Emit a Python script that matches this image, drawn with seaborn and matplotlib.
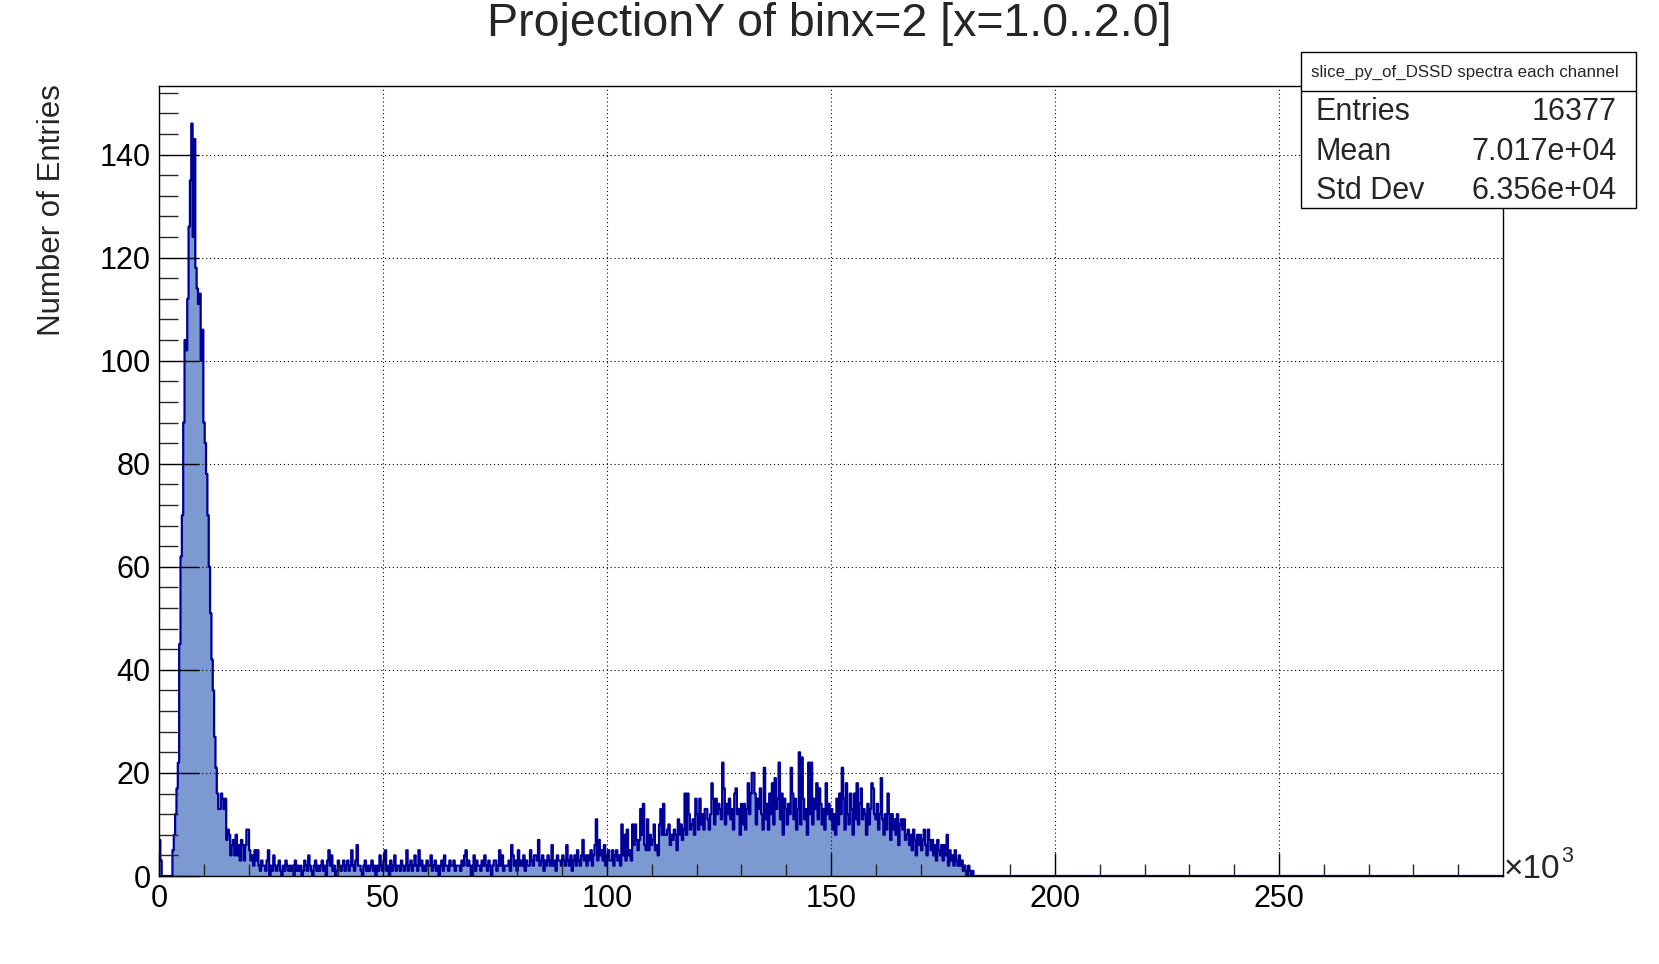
import numpy as np
import pandas as pd
import matplotlib
matplotlib.use("Agg")
import matplotlib.pyplot as plt
from matplotlib.ticker import FixedLocator, FuncFormatter
from matplotlib.patches import Rectangle
from matplotlib.lines import Line2D
import seaborn as sns

# ---------------- data (counts per 300-unit bin, 0 .. 300000) ----------------
BIN_WIDTH = 300
N_BINS = 1000

start_counts = [7, 3, 0, 0, 0, 0, 0, 0, 0, 0]
peak_counts = [5, 8, 12, 17, 22, 45, 62, 70, 88, 104, 102, 112, 126, 135, 146,
               124, 143, 118, 114, 111, 113, 100, 106, 88, 84, 78, 70, 60, 51,
               42, 36, 27, 21, 16]
tail_counts = [13, 13, 16, 15, 13, 15, 7, 9, 8, 4, 6, 7, 4, 8, 4, 6, 3, 7, 6, 3,
               6, 9, 9, 5, 3, 4, 2, 5, 3, 5, 2, 1, 3, 2]
plateau_counts = [
    2, 1, 3, 5, 0, 2, 1, 4, 2, 1, 2, 3, 1, 0, 2, 1, 3, 2, 1, 2,
    1, 2, 0, 3, 1, 2, 1, 2, 0, 1, 3, 2, 1, 4, 2, 1, 0, 2, 3, 1,
    2, 1, 2, 3, 1, 2, 0, 3, 5, 2, 4, 1, 2, 0, 1, 3, 2, 1, 2, 3,
    1, 2, 3, 1, 2, 5, 2, 1, 3, 6, 2, 2, 1, 0, 2, 3, 1, 2, 1, 2,
    3, 1, 2, 0, 2, 1, 4, 2, 1, 3, 5, 1, 2, 0, 3, 1, 2, 4, 1, 2,
    2, 1, 3, 2, 1, 2, 5, 1, 2, 3, 1, 2, 4, 2, 1, 5, 2, 3, 1, 2,
    1, 3, 2, 2, 4, 1, 2, 3, 1, 2, 0, 2, 3, 1, 4, 2, 2, 1, 3, 2,
    2, 3, 1, 2, 2, 2, 1, 3, 2, 4, 5, 2, 3, 2, 0, 2, 4, 1, 3, 2,
    2, 1, 3, 2, 4, 2, 1, 3, 2, 0, 2, 3, 3, 1, 2, 5, 2, 4, 1, 2,
    2, 2, 3, 1, 6, 4, 2, 3, 1, 5, 2, 3, 2, 4, 1, 3, 2, 2, 5, 3,
    2, 4, 4, 3, 7, 2, 3, 4, 1, 3, 2, 4, 3, 2, 6, 2, 3, 1, 4, 3]
rise_counts = [3, 2, 4, 3, 2, 6, 3, 2, 4, 1, 3, 4, 2, 5, 3, 2, 4, 7, 3, 4,
               2, 4, 3, 5, 2, 4, 6, 11, 3, 7, 4, 5, 3, 6, 2, 4, 5, 3]
bump_left_counts = [3, 5, 2, 4, 5, 3, 4, 2, 10, 4, 8, 3, 9, 4, 5, 3, 10, 6, 10,
                    7, 5, 7, 13, 8, 14, 6, 5, 11, 5, 8, 6, 7, 10, 5, 6, 4, 10,
                    13, 8, 14, 8, 8, 9, 10, 6, 8, 7, 9, 8, 5, 11, 8, 10, 7, 9,
                    16, 8, 16, 12, 9, 10, 11, 8, 15, 12, 9, 15, 10, 12, 9, 13,
                    13, 11, 9, 12, 18, 15, 10, 15, 12, 14, 13, 11, 22]
bump_top_counts = [17, 10, 14, 12, 15, 11, 13, 9, 16, 17, 12, 13, 8, 14, 10,
                   14, 9, 13, 18, 12, 16, 20, 20, 16, 10, 15, 13, 17, 12, 9,
                   21, 11, 14, 9, 16, 12, 18, 10, 19, 13, 15, 22, 11, 16, 8,
                   15, 13, 10, 14, 12, 21, 16, 11, 15, 9, 13, 24, 10, 23, 15,
                   11, 13, 8, 22, 12, 22, 10, 15, 13, 18, 11, 17, 14, 10, 13,
                   9, 18, 12, 14, 11, 13, 9, 12, 8, 15, 10, 16, 12, 21]
bump_right_counts = [15, 9, 18, 12, 10, 16, 13, 8, 16, 11, 18, 10, 14, 17, 11,
                     13, 12, 8, 14, 10, 13, 18, 17, 12, 11, 14, 9, 12, 19, 11,
                     8, 12, 9, 16, 12, 7, 12, 9, 11, 8, 12, 6, 10, 11, 9, 11,
                     7, 8]
fall_counts = [9, 6, 8, 5, 9, 7, 4, 8, 6, 8, 5, 7, 9, 6, 4, 9, 7, 5, 7, 4, 6,
               3, 7, 5, 4, 6, 3, 6, 4, 8, 2, 5, 3, 4, 2, 5, 3, 2, 4, 2, 3, 1,
               2, 1, 0, 2, 1, 0, 1]

counts = (start_counts + peak_counts + tail_counts + plateau_counts + rise_counts
          + bump_left_counts + bump_top_counts + bump_right_counts + fall_counts)
counts = counts + [0] * (N_BINS - len(counts))
edges = [i * BIN_WIDTH for i in range(N_BINS + 1)]
centers = [e + BIN_WIDTH / 2 for e in edges[:-1]]
df = pd.DataFrame({"x": centers, "w": counts})

title = "ProjectionY of binx=2 [x=1.0..2.0]"
ylabel = "Number of Entries"
xtick_major = [0, 50000, 100000, 150000, 200000, 250000]
xtick_minor = [v * 10000 for v in range(1, 30)]
ytick_major = [0, 20, 40, 60, 80, 100, 120, 140]
ytick_minor = [v * 4 for v in range(0, 39)]
stats_header = "slice_py_of_DSSD spectra each channel"
stats_rows = [("Entries", "16377"), ("Mean", "7.017e+04"), ("Std Dev", "6.356e+04")]

# ---------------- style ----------------
sns.set_style("white")
plt.rcParams["font.family"] = ["Liberation Sans", "DejaVu Sans"]

FILL = "#7c99d1"
LINE = "#000099"

W, H = 1659, 964
fig = plt.figure(figsize=(W / 100, H / 100), dpi=100)
L, R, T, B = 159, 1503, 86, 876
ax = fig.add_axes([L / W, 1 - B / H, (R - L) / W, (B - T) / H])

sns.histplot(data=df, x="x", weights="w", bins=edges, element="step",
             fill=True, color=FILL, alpha=1.0, linewidth=0, ax=ax)
sns.histplot(data=df, x="x", weights="w", bins=edges, element="step",
             fill=False, color=LINE, linewidth=1.6, ax=ax)

ax.set_xlim(0, 300000)
ax.set_ylim(0, 153.3)
ax.set_xlabel("")
ax.set_ylabel("")

ax.xaxis.set_major_locator(FixedLocator(xtick_major))
ax.xaxis.set_minor_locator(FixedLocator(xtick_minor))
ax.yaxis.set_major_locator(FixedLocator(ytick_major))
ax.yaxis.set_minor_locator(FixedLocator(ytick_minor))
ax.xaxis.set_major_formatter(FuncFormatter(lambda v, p: f"{v / 1000:g}"))
ax.yaxis.set_major_formatter(FuncFormatter(lambda v, p: f"{v:g}"))

ax.tick_params(axis="x", which="major", direction="in", length=16.5, width=1,
               labelsize=22, pad=6, bottom=True, top=False, colors="black")
ax.tick_params(axis="x", which="minor", direction="in", length=8.5, width=1,
               bottom=True, top=False)
ax.tick_params(axis="y", which="major", direction="in", length=29, width=1,
               labelsize=22, pad=6, left=True, right=False, colors="black")
ax.tick_params(axis="y", which="minor", direction="in", length=14, width=1,
               left=True, right=False)

ax.grid(True, which="major", color="black", linestyle=(0, (1, 2.5)), linewidth=0.8)
ax.set_axisbelow(False)
for s in ax.spines.values():
    s.set_color("black")
    s.set_linewidth(1.0)
    s.set_visible(True)

# title & axis title
fig.text(0.5, 1 - 24 / H, title, ha="center", va="center", fontsize=33.5)
fig.text(52 / W, 1 - 84 / H, ylabel, rotation=90, ha="center", va="top", fontsize=22.5)

# x10^3 label
fig.text(1504 / W, 1 - 869 / H, "\u00d710", ha="left", va="center", fontsize=24)
fig.text(1561 / W, 1 - 856 / H, "3", ha="left", va="center", fontsize=15.5)

# stats box
bx0, bx1, by0, by1, hline = 1301, 1636, 52, 208, 91
fig.patches.append(Rectangle((bx0 / W, 1 - by1 / H), (bx1 - bx0) / W, (by1 - by0) / H,
                             transform=fig.transFigure, facecolor="white",
                             edgecolor="black", linewidth=1.0, zorder=5))
fig.lines.append(Line2D([bx0 / W, bx1 / W], [1 - hline / H, 1 - hline / H],
                        transform=fig.transFigure, color="black", linewidth=1.0, zorder=6))
fig.text(1464.5 / W, 1 - 72 / H, stats_header, ha="center", va="center",
         fontsize=12.2, zorder=7)
for i, (lab, val) in enumerate(stats_rows):
    yy = 1 - (112 + 39.5 * i) / H
    fig.text(1316 / W, yy, lab, ha="left", va="center", fontsize=22, zorder=7)
    fig.text(1617 / W, yy, val, ha="right", va="center", fontsize=22, zorder=7)

fig.savefig("out.png", dpi=100, facecolor="white")
